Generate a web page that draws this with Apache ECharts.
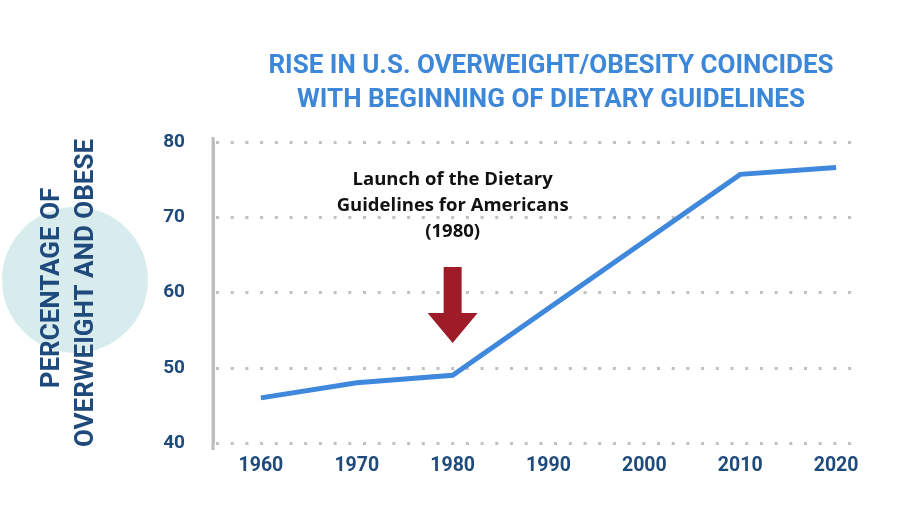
<!DOCTYPE html>
<html>
<head>
<meta charset="utf-8">
<script src="https://cdn.jsdelivr.net/npm/echarts@6/dist/echarts.min.js"></script>
<style>
html,body{margin:0;padding:0;background:#fff;}
#chart{width:914px;height:531px;}
</style>
</head>
<body>
<div id="chart"></div>
<script>
const years = ['1960','1970','1980','1990','2000','2010','2020'];
const overweightObese = [46, 48, 49, null, null, 75.7, 76.6];
const yTicks = [40, 50, 60, 70, 80];
const titleLines = ['RISE IN U.S. OVERWEIGHT/OBESITY COINCIDES', 'WITH BEGINNING OF DIETARY GUIDELINES'];
const yTitleLines = ['PERCENTAGE OF', 'OVERWEIGHT AND OBESE'];
const annotationLines = ['Launch of the Dietary', 'Guidelines for Americans', '(1980)'];
const annotationYear = '1980';

const navy = '#1f4a7c';
const chart = echarts.init(document.getElementById('chart'));
const yMin = yTicks[0], yMax = yTicks[yTicks.length - 1], yStep = yTicks[1] - yTicks[0];

chart.setOption({
  animation: false,
  backgroundColor: '#fff',
  title: {
    text: titleLines.join('\n'),
    left: 546, top: 44, textAlign: 'center',
    textStyle: { color: '#3d87d8', fontFamily: 'Roboto', fontWeight: 'bold', fontSize: 26, lineHeight: 34 }
  },
  grid: [
    { left: 213, right: 30, top: 142, bottom: 88 },
    { left: 216, right: 54, top: 142, bottom: 88 }
  ],
  xAxis: [
    { type: 'category', gridIndex: 0, data: years, boundaryGap: true,
      axisLine: { show: false }, axisTick: { show: false },
      axisLabel: { color: navy, fontFamily: 'Roboto', fontWeight: 'bold', fontSize: 19.5, margin: 13 } },
    { type: 'value', gridIndex: 1, min: 0, max: 1, show: false }
  ],
  yAxis: [
    { type: 'value', gridIndex: 0, min: yMin, max: yMax, interval: yStep,
      axisLine: { show: true, lineStyle: { color: '#bdbdbd', width: 3 } },
      axisTick: { show: false }, splitLine: { show: false },
      axisLabel: { color: navy, fontFamily: 'Roboto', fontWeight: 'bold', fontSize: 19, margin: 28 } },
    { type: 'value', gridIndex: 1, min: yMin, max: yMax, interval: yStep,
      axisLine: { show: false }, axisTick: { show: false }, axisLabel: { show: false },
      splitLine: { show: true, lineStyle: { color: '#c0c0c0', width: 3, type: [3, 11.7] } } }
  ],
  series: [
    { type: 'line', xAxisIndex: 0, yAxisIndex: 0, data: overweightObese, connectNulls: true,
      symbol: 'none', z: 5,
      lineStyle: { color: '#3f88dc', width: 5, cap: 'butt', join: 'miter' } },
    { type: 'line', xAxisIndex: 1, yAxisIndex: 1, data: [], silent: true }
  ]
});

const idx = years.indexOf(annotationYear);
const tip = chart.convertToPixel({ xAxisIndex: 0, yAxisIndex: 0 }, [idx, 53.3]);
const ax = tip[0], ay = tip[1];
chart.setOption({
  graphic: [
    { type: 'circle', shape: { cx: 75, cy: 280, r: 73 }, style: { fill: '#d8ecee' }, z: -10 },
    { type: 'line', shape: { x1: 213, y1: 137, x2: 213, y2: 450 }, style: { stroke: '#bdbdbd', lineWidth: 3 }, z: -5 },
    { type: 'text', x: 52, y: 288, rotation: Math.PI / 2,
      style: { text: yTitleLines[0], fill: navy, font: 'bold 26px Roboto', textAlign: 'center', textVerticalAlign: 'middle' } },
    { type: 'text', x: 86, y: 293, rotation: Math.PI / 2,
      style: { text: yTitleLines[1], fill: navy, font: 'bold 26px Roboto', textAlign: 'center', textVerticalAlign: 'middle' } },
    { type: 'text', x: ax, y: 167,
      style: { text: annotationLines.join('\n'), fill: '#111', font: 'bold 18.5px "Open Sans"', lineHeight: 26, textAlign: 'center' } },
    { type: 'polygon', shape: { points: [
        [ax - 9, ay - 76], [ax + 9, ay - 76], [ax + 9, ay - 30], [ax + 25, ay - 30],
        [ax, ay], [ax - 25, ay - 30], [ax - 9, ay - 30] ] },
      style: { fill: '#9e1c28' }, z: 10 }
  ]
});
</script>
</body>
</html>
